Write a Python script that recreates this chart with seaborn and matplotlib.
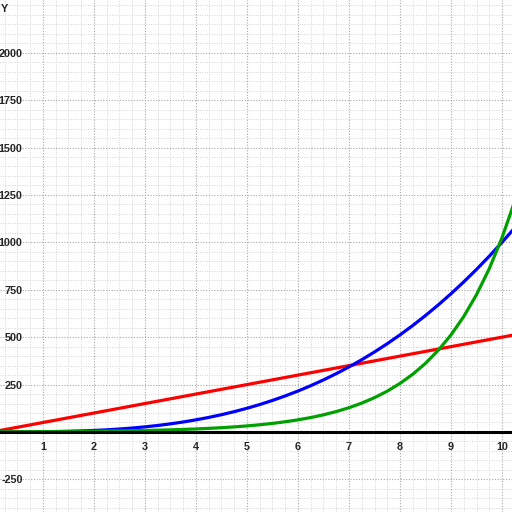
import numpy as np
import pandas as pd
import matplotlib
matplotlib.use("Agg")
import matplotlib.pyplot as plt
from matplotlib.ticker import MultipleLocator, FixedLocator, FuncFormatter
import seaborn as sns

# ---- data ----
x_vals = [0, 0.25, 0.5, 0.75, 1, 1.25, 1.5, 1.75, 2, 2.25, 2.5, 2.75, 3, 3.25, 3.5, 3.75,
          4, 4.25, 4.5, 4.75, 5, 5.25, 5.5, 5.75, 6, 6.25, 6.5, 6.75, 7, 7.25, 7.5, 7.75,
          8, 8.25, 8.5, 8.75, 9, 9.25, 9.5, 9.75, 10, 10.25, 10.5]
red_vals = [0, 12.5, 25, 37.5, 50, 62.5, 75, 87.5, 100, 112.5, 125, 137.5, 150, 162.5, 175, 187.5,
            200, 212.5, 225, 237.5, 250, 262.5, 275, 287.5, 300, 312.5, 325, 337.5, 350, 362.5, 375, 387.5,
            400, 412.5, 425, 437.5, 450, 462.5, 475, 487.5, 500, 512.5, 525]
blue_vals = [0, 0.02, 0.13, 0.42, 1, 1.95, 3.38, 5.36, 8, 11.39, 15.63, 20.8, 27, 34.33, 42.88, 52.73,
             64, 76.77, 91.13, 107.17, 125, 144.7, 166.38, 190.11, 216, 244.14, 274.63, 307.55, 343, 381.08, 421.88, 465.48,
             512, 561.52, 614.13, 669.92, 729, 791.45, 857.38, 926.86, 1000, 1076.89, 1157.63]
green_vals = [1, 1.19, 1.41, 1.68, 2, 2.38, 2.83, 3.36, 4, 4.76, 5.66, 6.73, 8, 9.51, 11.31, 13.45,
              16, 19.03, 22.63, 26.91, 32, 38.05, 45.25, 53.82, 64, 76.11, 90.51, 107.63, 128, 152.22, 181.02, 215.27,
              256, 304.44, 362.04, 430.54, 512, 608.87, 724.08, 861.08, 1024, 1217.75, 1448.15]
series_names = ["red", "blue", "green"]
series_colors = ["#ff0000", "#0000ff", "#00a000"]
y_tick_vals = [-250, 250, 500, 750, 1000, 1250, 1500, 1750, 2000]
x_tick_vals = [1, 2, 3, 4, 5, 6, 7, 8, 9, 10]
y_axis_label = "Y"

df = pd.concat([
    pd.DataFrame({"x": x_vals, "y": vals, "series": name})
    for name, vals in zip(series_names, [red_vals, blue_vals, green_vals])
], ignore_index=True)

sns.set_style("white")
plt.rcParams["font.family"] = ["Liberation Sans", "DejaVu Sans"]
plt.rcParams["font.weight"] = "bold"

fig = plt.figure(figsize=(5.12, 5.12), dpi=100)
ax = fig.add_axes([0, 0, 1, 1])

sns.lineplot(data=df, x="x", y="y", hue="series", palette=dict(zip(series_names, series_colors)),
             hue_order=series_names, legend=False, linewidth=2.3, ax=ax, sort=False,
             estimator=None)

ax.set_xlim(0.157, 10.196)
ax.set_ylim(-422, 2278)

# grid
ax.xaxis.set_major_locator(FixedLocator(x_tick_vals))
ax.xaxis.set_minor_locator(MultipleLocator(0.25))
ax.yaxis.set_major_locator(FixedLocator(y_tick_vals + [0]))
ax.yaxis.set_minor_locator(MultipleLocator(50))
ax.grid(which="major", color="#a8a8a8", linestyle=(0, (1, 1.5)), linewidth=0.8)
ax.grid(which="minor", color="#d4d4d4", linestyle=(0, (1, 1.5)), linewidth=0.7)
ax.set_axisbelow(True)

# x axis through y = 0
for s in ["top", "right", "left"]:
    ax.spines[s].set_visible(False)
ax.spines["bottom"].set_position(("data", 0))
ax.spines["bottom"].set_linewidth(2.2)
ax.spines["bottom"].set_color("black")
ax.tick_params(axis="x", which="major", direction="inout", length=9, width=2.2,
               color="black", labelsize=7.8, pad=3)
ax.tick_params(axis="x", which="minor", direction="inout", length=4, width=1.2, color="black")

# y labels drawn inside the plot area
ax.tick_params(axis="y", which="both", length=0, labelsize=7.8, pad=-16.3)
ax.yaxis.set_major_formatter(FuncFormatter(lambda v, p: "" if v == 0 else f"{int(v)}"))
for lbl in ax.get_yticklabels():
    lbl.set_horizontalalignment("right")
ax.set_xlabel("")
ax.set_ylabel("")
ax.text(0.002, 0.993, y_axis_label, transform=ax.transAxes, ha="left", va="top", fontsize=7.8)

fig.savefig("out.png", dpi=100)
